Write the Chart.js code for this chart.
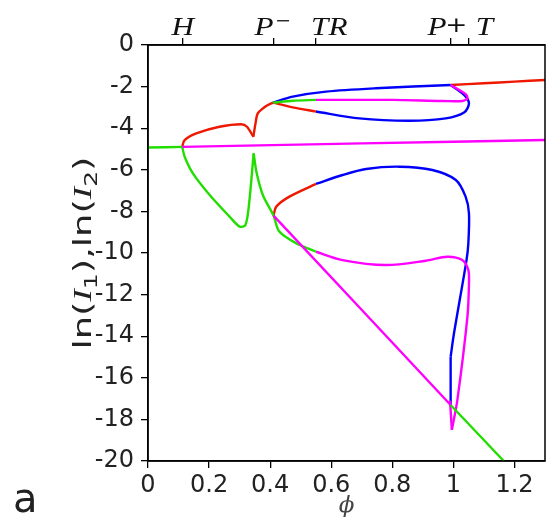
<!DOCTYPE html>
<html>
<head>
<meta charset="utf-8">
<script src="https://cdn.jsdelivr.net/npm/chart.js@4"></script>
<style>
  html, body { margin: 0; padding: 0; background: #fff; }
</style>
</head>
<body>
<canvas id="myChart" width="546" height="517"></canvas>
<script>
// ticks
const xTicks = [0, 0.2, 0.4, 0.6, 0.8, 1, 1.2];
const yTicks = [0, -2, -4, -6, -8, -10, -12, -14, -16, -18, -20];
const topTicks = [0.112, 0.411, 0.55, 0.991, 1.051];
const topLabels = ['H', 'P', 'TR', 'P', 'T'];
const topSups = ['', '−', '', '+', ''];
const topLabelX = [0.077, 0.349, 0.534, 0.915, 1.073];

// branches (phi, ln I)
const greenLeftX = [0, 0.112];
const greenLeftY = [-4.93, -4.9];
const magentaFlatX = [0.112, 0.7, 1.3];
const magentaFlatY = [-4.9, -4.73, -4.57];

const redUpAX = [0.112, 0.120, 0.158, 0.234, 0.305, 0.324, 0.345];
const redUpAY = [-4.89, -4.57, -4.25, -3.93, -3.81, -3.93, -4.41];
const redUpBX = [0.345, 0.352, 0.36, 0.387, 0.409];
const redUpBY = [-4.41, -3.77, -3.28, -2.93, -2.77];

const blueTopX = [0.409, 0.474, 0.583, 0.746, 0.991];
const blueTopY = [-2.77, -2.48, -2.24, -2.08, -1.92];
const greenTopX = [0.409, 0.474, 0.55];
const greenTopY = [-2.77, -2.68, -2.64];
const magentaTopX = [0.55, 0.8, 0.964, 1.03, 1.046, 1.04, 0.991];
const magentaTopY = [-2.64, -2.64, -2.69, -2.69, -2.56, -2.36, -1.92];
const redMidX = [0.409, 0.474, 0.55];
const redMidY = [-2.77, -3.0, -3.2];
const blueLoopX = [0.55, 0.692, 0.855, 0.975, 1.035, 1.051, 1.035, 0.991];
const blueLoopY = [-3.2, -3.53, -3.64, -3.53, -3.25, -2.8, -2.4, -1.92];
const redRightX = [0.991, 1.1, 1.2, 1.3];
const redRightY = [-1.92, -1.84, -1.76, -1.68];

const greenLowAX = [0.112, 0.12, 0.147, 0.202, 0.267, 0.30, 0.319, 0.33, 0.346];
const greenLowAY = [-4.89, -5.37, -6.17, -7.21, -8.25, -8.73, -8.65, -7.77, -5.21];
const greenLowBX = [0.346, 0.356, 0.376, 0.411, 0.43, 0.485, 0.55];
const greenLowBY = [-5.21, -6.17, -7.21, -8.2, -8.97, -9.53, -9.94];
const magentaLowAX = [0.55, 0.637, 0.779, 0.91, 0.98, 1.029, 1.049, 1.051, 1.046, 1.013, 0.995];
const magentaLowAY = [-9.94, -10.34, -10.58, -10.37, -10.18, -10.34, -10.82, -11.46, -13.06, -17.07, -18.5];
const magentaLowBX = [0.995, 0.989];
const magentaLowBY = [-18.5, -17.1];
const redLowX = [0.411, 0.42, 0.463, 0.55];
const redLowY = [-8.2, -7.77, -7.29, -6.68];
const blueLowAX = [0.55, 0.637, 0.714, 0.823, 0.931, 1.008, 1.04, 1.051, 1.049, 1.043, 1.002, 0.991];
const blueLowAY = [-6.68, -6.25, -5.96, -5.85, -6.01, -6.49, -7.29, -8.09, -9.53, -10.34, -13.86, -14.99];
const blueLowBX = [0.991, 0.991];
const blueLowBY = [-14.99, -17.31];
const magentaDiagX = [0.411, 0.991];
const magentaDiagY = [-8.2, -17.31];
const greenDiagX = [0.991, 1.165];
const greenDiagY = [-17.31, -20];

const RED = 'rgb(238,24,0)';
const GREEN = 'rgb(34,222,0)';
const BLUE = 'rgb(0,0,250)';
const MAGENTA = 'rgb(255,0,255)';

const curves = [
  [greenLeftX, greenLeftY, GREEN],
  [magentaFlatX, magentaFlatY, MAGENTA],
  [redUpAX, redUpAY, RED],
  [redUpBX, redUpBY, RED],
  [greenTopX, greenTopY, GREEN],
  [magentaTopX, magentaTopY, MAGENTA],
  [blueTopX, blueTopY, BLUE],
  [redMidX, redMidY, RED],
  [blueLoopX, blueLoopY, BLUE],
  [redRightX, redRightY, RED],
  [magentaDiagX, magentaDiagY, MAGENTA],
  [greenDiagX, greenDiagY, GREEN],
  [greenLowAX, greenLowAY, GREEN],
  [greenLowBX, greenLowBY, GREEN],
  [magentaLowAX, magentaLowAY, MAGENTA],
  [magentaLowBX, magentaLowBY, MAGENTA],
  [redLowX, redLowY, RED],
  [blueLowAX, blueLowAY, BLUE],
  [blueLowBX, blueLowBY, BLUE]
];

const datasets = curves.map(([xs, ys, col]) => ({
  data: xs.map((x, i) => ({x, y: ys[i]})),
  showLine: true,
  borderColor: col,
  borderWidth: 2.4,
  pointRadius: 0,
  tension: 0.3,
  fill: false
}));

const SANS = 'DejaVu Sans';
const SERIF = 'Liberation Serif';

// draws a row of text pieces, returns width
function richText(ctx, parts, x, y, measureOnly) {
  let cx = x;
  parts.forEach(p => {
    ctx.font = p.font;
    if (!measureOnly) ctx.fillText(p.t, cx, y + (p.dy || 0));
    cx += ctx.measureText(p.t).width;
  });
  return cx - x;
}

const extras = {
  id: 'extras',
  afterDraw(chart) {
    const ctx = chart.ctx;
    const a = chart.chartArea;
    ctx.save();
    // frame
    ctx.strokeStyle = '#000';
    ctx.lineWidth = 1.5;
    ctx.strokeRect(a.left, a.top, a.right - a.left, a.bottom - a.top);

    // top labels
    ctx.fillStyle = '#111';
    ctx.textBaseline = 'alphabetic';
    ctx.textAlign = 'left';
    const x2 = chart.scales.x2;
    topLabels.forEach((lab, i) => {
      const px = x2.getPixelForValue(topLabelX[i]);
      ctx.save();
      ctx.translate(px, 35);
      ctx.scale(1.2, 1);
      ctx.font = 'italic 26px "' + SERIF + '"';
      ctx.fillText(lab, 0, 0);
      const w = ctx.measureText(lab).width;
      if (topSups[i] === '−') {
        ctx.font = '16px "' + SANS + '"';
        ctx.fillText(topSups[i], w + 1, -9);
      } else if (topSups[i] === '+') {
        ctx.font = '22px "' + SANS + '"';
        ctx.fillText(topSups[i], w - 1, -3);
      }
      ctx.restore();
    });

    // y title
    const big = '25px "' + SANS + '"';
    const ital = 'italic 25px "' + SERIF + '"';
    const sub = '17px "' + SANS + '"';
    const parts = [
      {t: 'ln(', font: big}, {t: 'I', font: ital}, {t: '1', font: sub, dy: 6},
      {t: '),', font: big},
      {t: 'ln(', font: big}, {t: 'I', font: ital}, {t: '2', font: sub, dy: 6},
      {t: ')', font: big}
    ];
    const total = richText(ctx, parts, 0, 0, true);
    const sx = 193 / total;
    ctx.save();
    ctx.translate(91, 253);
    ctx.rotate(-Math.PI / 2);
    ctx.scale(sx, 1);
    ctx.fillStyle = '#222';
    richText(ctx, parts, -total / 2, 0, false);
    ctx.restore();

    // panel letter
    ctx.fillStyle = '#222';
    ctx.font = '40px "' + SANS + '"';
    ctx.fillText('a', 13, 512);
    ctx.restore();
  }
};

new Chart(document.getElementById('myChart'), {
  type: 'scatter',
  data: { datasets },
  options: {
    responsive: false,
    animation: false,
    devicePixelRatio: 1,
    layout: { padding: { left: 0, right: 1, top: 0, bottom: 0 } },
    plugins: { legend: { display: false }, tooltip: { enabled: false } },
    scales: {
      x: {
        type: 'linear', position: 'bottom', min: 0, max: 1.3,
        afterBuildTicks: s => { s.ticks = xTicks.map(v => ({value: v})); },
        afterFit: s => { s.height = 56; },
        ticks: {
          callback: v => String(v), autoSkip: false, maxRotation: 0,
          font: {family: SANS, size: 24}, color: '#222', padding: 3
        },
        grid: { drawOnChartArea: false, tickLength: 7, color: '#000', lineWidth: 1.3 },
        border: { display: true, color: '#000', width: 1.5 },
        title: {
          display: true, text: 'ϕ', color: '#444', padding: 0,
          font: {family: 'DejaVu Serif', style: 'italic', size: 23, lineHeight: 0.95}
        }
      },
      x2: {
        type: 'linear', position: 'top', min: 0, max: 1.3,
        afterBuildTicks: s => { s.ticks = topTicks.map(v => ({value: v})); },
        afterFit: s => { s.height = 45; },
        ticks: { display: false },
        grid: { drawOnChartArea: false, tickLength: 7, color: '#000', lineWidth: 1.3 },
        border: { display: true, color: '#000', width: 1.5 }
      },
      y: {
        type: 'linear', position: 'left', min: -20, max: 0,
        afterBuildTicks: s => { s.ticks = yTicks.map(v => ({value: v})); },
        afterFit: s => { s.width = 148; },
        ticks: {
          callback: v => String(v), autoSkip: false,
          font: {family: SANS, size: 24}, color: '#222', padding: 7
        },
        grid: { drawOnChartArea: false, tickLength: 7, color: '#000', lineWidth: 1.3 },
        border: { display: true, color: '#000', width: 1.5 }
      }
    }
  },
  plugins: [extras]
});
</script>
</body>
</html>
